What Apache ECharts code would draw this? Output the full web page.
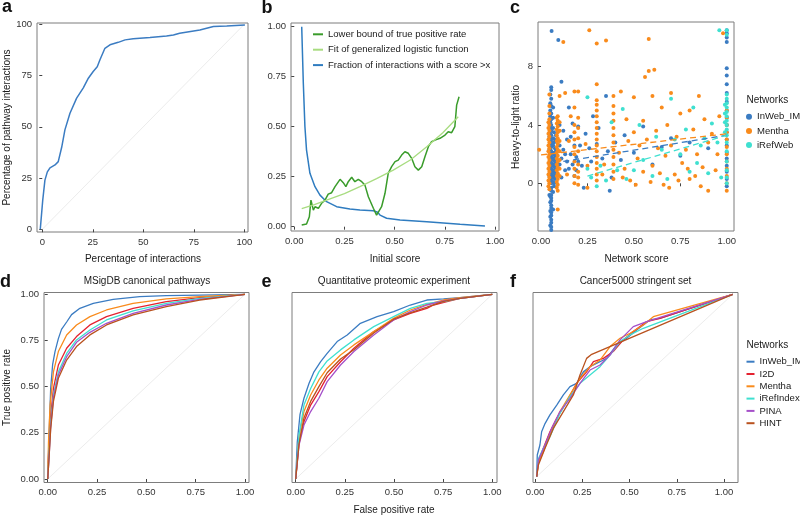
<!DOCTYPE html>
<html><head><meta charset="utf-8">
<script src="https://cdn.jsdelivr.net/npm/echarts@6/dist/echarts.min.js"></script>
<style>html,body{margin:0;padding:0;background:#fff}#c{width:800px;height:515px}</style>
</head><body><div id="c"></div>
<script>
// ---------- DATA ----------
// Panel a
const aCurve = [[-1,0],[0.2,14],[1.3,24],[2.5,28],[3.8,30],[6.3,31.4],[7.9,33],[9.6,40],[11.2,48.5],[13.7,56.6],[17,64],[20.3,69],[22.8,73.7],[25.2,77],[27.2,79.3],[28.5,82.6],[31,88.3],[33.5,90],[37.6,91.2],[41,92.4],[45,92.9],[53.3,93.5],[61.5,94.3],[64.9,94.8],[68,95.6],[78,97.2],[84.7,98.9],[91.3,99.2],[100.3,99.7]];
const aDiag = [[0,0],[100,100]];
const aTicks = [0,25,50,75,100];

// Panel b
const bNames = ['Lower bound of true positive rate','Fit of generalized logistic function','Fraction of interactions with a score >x'];
const bFraction = [[0.037,1.0],[0.045,0.717],[0.053,0.5],[0.061,0.383],[0.078,0.267],[0.103,0.2],[0.128,0.158],[0.161,0.125],[0.211,0.1],[0.277,0.088],[0.327,0.083],[0.394,0.08],[0.415,0.072],[0.427,0.058],[0.46,0.042],[0.527,0.033],[0.66,0.025],[0.826,0.012],[0.95,0.003]];
const bLower = [[0.037,0.008],[0.061,0.013],[0.075,0.05],[0.083,0.133],[0.088,0.142],[0.095,0.083],[0.103,0.1],[0.12,0.092],[0.136,0.117],[0.153,0.133],[0.169,0.163],[0.186,0.17],[0.203,0.2],[0.228,0.237],[0.244,0.22],[0.257,0.2],[0.269,0.225],[0.286,0.247],[0.302,0.225],[0.319,0.237],[0.336,0.225],[0.344,0.233],[0.352,0.208],[0.369,0.15],[0.394,0.092],[0.41,0.058],[0.419,0.053],[0.435,0.1],[0.452,0.167],[0.468,0.267],[0.485,0.3],[0.502,0.325],[0.518,0.333],[0.535,0.358],[0.551,0.375],[0.568,0.367],[0.585,0.342],[0.601,0.3],[0.618,0.283],[0.635,0.3],[0.651,0.35],[0.668,0.4],[0.684,0.425],[0.701,0.433],[0.726,0.442],[0.751,0.458],[0.767,0.475],[0.784,0.47],[0.8,0.5],[0.809,0.608],[0.821,0.65]];
const bFit = [[0.037,0.09],[0.1,0.11],[0.161,0.133],[0.25,0.165],[0.327,0.2],[0.41,0.24],[0.493,0.283],[0.58,0.335],[0.66,0.4],[0.74,0.47],[0.817,0.55]];
const bTicks = [0,0.25,0.5,0.75,1];

// Panel c (scatter columns + scattered points)
const cNames = ['InWeb_IM','Mentha','iRefWeb'];
const cInWebColX = [0.045,0.05,0.055,0.065,0.07,0.075,0.08,1.0];
const cInWebColY = [
  [-0.8,0.5,1.4,2.3,3.2,4.2],
  [-2.9,-2.3,-1.9,-1.3,-0.9,-0.4,0.1,0.3,0.5,0.7,0.9,1.1,1.3,1.5,1.7,1.9,2.1,2.3,2.7,3.1,3.4,3.8,4.2,4.6,5.0,5.5,6.1],
  [-3.2,-3.0,-2.7,-2.5,-2.2,-2.0,-1.7,-1.5,-1.2,-1.0,-0.8,-0.5,-0.3,0,0.2,0.4,0.6,0.8,1.0,1.2,1.4,1.6,1.8,2.0,2.2,2.5,2.8,3.0,3.3,3.6,4.0,4.4,4.8,5.3,5.8,6.4,6.6],
  [-1.8,-0.6,0.1,0.5,0.9,1.3,1.7,2.1,2.6,3.1,3.8,4.5,5.2],
  [-0.2,0.0,0.4,0.8,1.2,1.6,2.0,2.8,3.5],
  [0.3,0.7,1.1,1.5,1.9,2.4,3.0],
  [0.6,1.0,1.4,1.8,2.2,3.3],
  [-0.2,0.3,0.8,1.2,1.7,2.1,2.6,3.0,3.5,4.0,4.5,5.0,5.6,6.2,6.8,7.4,7.9,9.7,10.0,10.3,10.5]
];
const cInWebPts = [[0.057,10.45],[0.093,9.83],[0.11,6.97],[0.1,4.0],[0.12,3.6],[0.13,2.0],[0.14,1.5],[0.15,5.2],[0.16,3.2],[0.17,4.1],[0.18,0.5],[0.19,1.8],[0.2,3.9],[0.21,2.6],[0.22,1.2],[0.23,-0.3],[0.24,3.4],[0.26,2.4],[0.27,1.5],[0.28,4.6],[0.3,2.7],[0.31,3.8],[0.33,1.7],[0.35,6.0],[0.36,2.2],[0.38,0.4],[0.4,2.8],[0.43,1.6],[0.37,-0.5],[0.45,3.3],[0.5,2.1],[0.55,3.9],[0.6,1.3],[0.65,2.5],[0.7,3.1],[0.75,1.9],[0.8,2.8],[0.9,2.4],[0.1,1.3],[0.11,1.7],[0.12,2.3],[0.13,0.9],[0.14,3.0],[0.1,2.6],[0.11,0.4],[0.15,1.0],[0.16,2.0],[0.17,1.3],[0.18,2.6],[0.19,0.9],[0.2,1.5]];
const cMenthaColX = [0.04,0.045,0.085,0.09,0.1,0.18,0.2,0.3,0.39,1.0];
const cMenthaColY = [
  [-0.2,0.2,0.6,1.0,1.4,1.8,2.2,2.6,3.0,3.4,3.8,4.2],
  [-0.4,0,0.4,0.8,1.2,1.6,2.0,2.4,2.8,3.2,3.6,4.0,4.4,4.8,5.3,6.1],
  [-0.3,0.1,0.5,0.9,1.3,1.7,2.1,2.5,2.9,3.3,3.7,4.1,4.5],
  [-1.8,-0.5,-0.1,0.3,0.7,1.1,1.5,1.9,2.3,2.7,3.1,3.5,3.9,4.3,4.6],
  [0.5,1.0,1.6,2.2,2.9,3.6,4.2,6.0],
  [0.0,0.5,1.0,1.5,2.0,2.5,3.0,3.5,4.0,5.2,6.3],
  [-0.1,0.4,0.8,1.3,2.2,3.1,3.8,4.5,6.3],
  [0.2,0.6,1.0,1.4,1.8,2.2,2.6,3.0,3.4,3.8,4.2,4.6,5.0,5.4,5.7,6.8,9.6],
  [0.3,0.8,1.3,1.8,2.3,2.8,3.3,3.8,4.3,4.8,5.3,6.0],
  [-0.5,0,0.5,1.0,1.5,2.0,2.5,3.0,3.5,4.0,4.5,5.0]
];
const cMenthaPts = [[-0.01,2.3],[0.12,9.7],[0.13,6.2],[0.14,0.6],[0.15,2.9],[0.16,4.6],[0.25,-0.3],[0.26,10.5],[0.25,1.2],[0.24,2.7],[0.35,9.8],[0.33,0.6],[0.34,1.3],[0.42,2.1],[0.43,6.3],[0.45,1.0],[0.46,4.4],[0.47,2.9],[0.48,0.2],[0.5,3.5],[0.5,5.9],[0.52,1.7],[0.53,2.6],[0.55,4.3],[0.55,0.8],[0.56,7.3],[0.57,3.0],[0.58,9.9],[0.58,7.7],[0.6,6.0],[0.61,7.8],[0.6,1.2],[0.62,3.6],[0.63,2.4],[0.65,5.2],[0.66,-0.1],[0.67,1.9],[0.68,4.0],[0.7,6.2],[0.7,2.6],[0.72,0.6],[0.73,3.2],[0.75,4.8],[0.76,1.4],[0.78,2.3],[0.8,5.0],[0.8,0.3],[0.82,3.7],[0.84,2.0],[0.85,6.0],[0.87,1.1],[0.88,4.4],[0.9,-0.5],[0.9,2.8],[0.92,3.4],[0.94,0.9],[0.95,2.0],[0.96,4.6],[0.98,10.3],[0.44,0.4],[0.51,-0.1],[0.59,0.1],[0.64,0.7],[0.69,-0.3],[0.74,0.2],[0.79,1.0],[0.83,0.5],[0.86,-0.2]];
const cIRefColX = [0.99,1.0];
const cIRefColY = [
  [3.5,4.2,4.8,5.4],
  [0.0,0.4,0.9,1.5,2.2,2.8,3.3,3.7,4.0,4.3,4.6,4.9,5.2,5.5,5.8,6.1,10.2,10.5]
];
const cIRefPts = [[0.25,5.9],[0.25,1.0],[0.27,0.4],[0.3,-0.2],[0.32,1.2],[0.35,0.2],[0.38,4.2],[0.41,0.9],[0.44,5.1],[0.46,0.3],[0.5,0.9],[0.53,4.0],[0.55,1.6],[0.6,0.5],[0.62,3.2],[0.65,2.3],[0.68,0.3],[0.7,5.8],[0.72,3.0],[0.75,2.0],[0.78,3.7],[0.8,0.8],[0.82,5.2],[0.84,1.4],[0.86,2.6],[0.88,3.1],[0.9,0.7],[0.92,4.1],[0.95,2.8],[0.96,10.5],[0.97,0.4]];
const cFitInWeb = [[0.12,1.5],[1.0,3.3]];
const cFitMentha = [[0.0,1.95],[1.0,3.4]];
const cFitIRef = [[0.25,0.5],[1.0,3.3]];
const cXTicks = [0,0.25,0.5,0.75,1];
const cYTicks = [0,4,8];

// Panels d, e, f (ROC curves)
const rocNames = ['InWeb_IM','I2D','Mentha','iRefIndex','PINA','HINT'];
const dInWeb = [[0,0],[0.008,0.27],[0.015,0.49],[0.025,0.62],[0.037,0.69],[0.054,0.76],[0.07,0.81],[0.096,0.85],[0.121,0.89],[0.163,0.924],[0.231,0.951],[0.332,0.973],[0.466,0.987],[0.601,0.993],[0.77,0.996],[1,1]];
const dI2D = [[0,0],[0.005,0.15],[0.012,0.31],[0.029,0.49],[0.054,0.617],[0.096,0.708],[0.146,0.771],[0.214,0.834],[0.298,0.879],[0.433,0.924],[0.601,0.96],[0.77,0.982],[1,1]];
const dMentha = [[0,0],[0.004,0.2],[0.012,0.40],[0.029,0.58],[0.054,0.69],[0.096,0.78],[0.146,0.834],[0.214,0.879],[0.298,0.915],[0.433,0.951],[0.601,0.975],[0.77,0.987],[1,1]];
const dIRef = [[0,0],[0.006,0.12],[0.015,0.3],[0.029,0.455],[0.054,0.58],[0.096,0.68],[0.146,0.753],[0.214,0.807],[0.298,0.861],[0.433,0.91],[0.601,0.951],[0.77,0.978],[1,1]];
const dPINA = [[0,0],[0.006,0.1],[0.015,0.28],[0.029,0.44],[0.054,0.563],[0.096,0.662],[0.146,0.74],[0.214,0.794],[0.298,0.843],[0.433,0.897],[0.601,0.942],[0.77,0.973],[1,1]];
const dHINT = [[0,0],[0.006,0.1],[0.015,0.27],[0.029,0.42],[0.054,0.545],[0.096,0.644],[0.146,0.717],[0.214,0.78],[0.298,0.834],[0.433,0.888],[0.601,0.933],[0.77,0.969],[1,1]];

const eInWeb = [[0,0],[0.008,0.2],[0.022,0.35],[0.042,0.437],[0.068,0.518],[0.093,0.58],[0.127,0.635],[0.16,0.68],[0.211,0.744],[0.262,0.78],[0.329,0.843],[0.414,0.879],[0.498,0.906],[0.583,0.942],[0.667,0.969],[0.752,0.975],[0.836,0.982],[1,1]];
const eI2D = [[0,0],[0.017,0.2],[0.042,0.31],[0.076,0.40],[0.118,0.473],[0.16,0.554],[0.228,0.635],[0.296,0.708],[0.397,0.798],[0.498,0.861],[0.583,0.897],[0.667,0.924],[0.701,0.942],[0.769,0.96],[0.836,0.978],[1,1]];
const eMentha = [[0,0],[0.017,0.23],[0.042,0.365],[0.076,0.455],[0.118,0.536],[0.16,0.6],[0.228,0.671],[0.296,0.726],[0.397,0.798],[0.498,0.87],[0.583,0.915],[0.667,0.946],[0.752,0.969],[0.836,0.982],[1,1]];
const eIRef = [[0,0],[0.017,0.238],[0.042,0.40],[0.076,0.49],[0.118,0.58],[0.16,0.639],[0.228,0.699],[0.296,0.753],[0.397,0.825],[0.498,0.879],[0.583,0.924],[0.667,0.951],[0.752,0.96],[0.836,0.978],[1,1]];
const ePINA = [[0,0],[0.017,0.184],[0.042,0.292],[0.076,0.365],[0.118,0.437],[0.16,0.527],[0.228,0.617],[0.296,0.69],[0.397,0.78],[0.498,0.861],[0.583,0.906],[0.667,0.942],[0.752,0.964],[0.836,0.978],[1,1]];
const eHINT = [[0,0],[0.017,0.19],[0.042,0.33],[0.076,0.42],[0.118,0.5],[0.16,0.575],[0.228,0.65],[0.296,0.7],[0.397,0.79],[0.498,0.865],[0.583,0.9],[0.667,0.93],[0.752,0.962],[0.836,0.978],[1,1]];

const fInWeb = [[0.009,0.013],[0.012,0.13],[0.026,0.184],[0.035,0.256],[0.053,0.30],[0.079,0.347],[0.115,0.40],[0.15,0.455],[0.185,0.5],[0.22,0.518],[0.256,0.58],[0.291,0.608],[0.344,0.635],[0.379,0.653],[0.432,0.726],[0.485,0.762],[0.538,0.807],[0.608,0.861],[0.661,0.87],[1.046,1]];
const fI2D = [[0.009,0.013],[0.018,0.094],[0.044,0.166],[0.079,0.256],[0.115,0.329],[0.168,0.419],[0.22,0.518],[0.273,0.58],[0.309,0.635],[0.362,0.653],[0.414,0.69],[0.467,0.753],[0.52,0.798],[0.591,0.852],[0.661,0.87],[1.046,1]];
const fMentha = [[0.009,0.013],[0.018,0.085],[0.044,0.148],[0.079,0.238],[0.132,0.365],[0.185,0.455],[0.238,0.545],[0.291,0.608],[0.344,0.644],[0.397,0.717],[0.45,0.762],[0.503,0.789],[0.573,0.834],[0.626,0.879],[1.046,1]];
const fIRef = [[0.009,0.013],[0.018,0.11],[0.044,0.166],[0.079,0.229],[0.132,0.356],[0.185,0.446],[0.238,0.518],[0.291,0.563],[0.344,0.608],[0.397,0.671],[0.45,0.744],[0.503,0.78],[0.573,0.816],[1.046,1]];
const fPINA = [[0.009,0.013],[0.018,0.103],[0.053,0.184],[0.088,0.274],[0.132,0.365],[0.185,0.437],[0.238,0.518],[0.291,0.59],[0.344,0.617],[0.397,0.671],[0.45,0.753],[0.52,0.825],[0.591,0.852],[1.046,1]];
const fHINT = [[0.009,0.013],[0.018,0.076],[0.053,0.166],[0.097,0.274],[0.15,0.365],[0.203,0.455],[0.238,0.563],[0.273,0.653],[0.3,0.675],[1.046,1]];
const rocDiag = [[0,0],[1,1]];
const fDiag = [[0.009,0.013],[1.046,1]];
const rocTicks = [0,0.25,0.5,0.75,1];

// ---------- STYLE ----------
const FONT = "'Liberation Sans', Arial, sans-serif";
const C = {InWeb_IM:'#3b7cc2', I2D:'#e42230', Mentha:'#f98b1c', iRefIndex:'#3fe0d0', PINA:'#a550c9', HINT:'#b9521f', iRefWeb:'#3fe0d0'};
const DIAG = '#ececec';

function colPts(xs, ys){ const out=[]; xs.forEach((x,i)=>ys[i].forEach(y=>out.push([x,y]))); return out; }
const cInWeb = colPts(cInWebColX,cInWebColY).concat(cInWebPts);
const cMentha = colPts(cMenthaColX,cMenthaColY).concat(cMenthaPts);
const cIRef = colPts(cIRefColX,cIRefColY).concat(cIRefPts);

const f2 = v => v.toFixed(2);
const f0 = v => String(Math.round(v));
function ax(gi, min, max, ticks, fmt, show){
  return {gridIndex:gi, type:'value', min, max, splitLine:{show:false}, axisLine:{show:false},
    axisTick:{show:show, customValues:ticks, length:3, lineStyle:{color:'#444', width:1}},
    axisLabel:{show:show, customValues:ticks, formatter:fmt, margin:5, fontSize:9.5, color:'#333', fontFamily:FONT}};
}
const grids = [
  {left:37, top:23, width:211, height:209},
  {left:291, top:23, width:208, height:208},
  {left:538, top:22, width:196, height:209},
  {left:44, top:292.5, width:205, height:190},
  {left:292, top:292.5, width:205, height:190},
  {left:533, top:292.5, width:205, height:190}
].map(g=>Object.assign(g,{show:true, borderColor:'#7d7d7d', borderWidth:1, backgroundColor:'#fff'}));

const xAxes = [
  ax(0,-2.62,101.83,aTicks,f0,true),
  ax(1,-0.0164,1.02,bTicks,f2,true),
  ax(2,-0.0162,1.039,cXTicks,f2,true),
  ax(3,-0.0188,1.0203,rocTicks,f2,true),
  ax(4,-0.0188,1.0239,rocTicks,f2,true),
  ax(5,-0.0106,1.074,rocTicks,f2,true)
];
const yAxes = [
  ax(0,-1.32,100.63,aTicks,f0,true),
  ax(1,-0.0215,1.0185,bTicks,f2,true),
  ax(2,-3.27,11.07,cYTicks,f0,true),
  ax(3,-0.019,1.0097,rocTicks,f2,true),
  ax(4,-0.019,1.0097,rocTicks,f2,false),
  ax(5,-0.019,1.0097,rocTicks,f2,false)
];

function line(name, gi, data, color, width, extra){
  return Object.assign({type:'line', name, xAxisIndex:gi, yAxisIndex:gi, data, showSymbol:false, symbol:'none',
    lineStyle:{color, width}, itemStyle:{color}, animation:false, silent:true, z:3}, extra||{});
}
function scat(name, data, color){
  return {type:'scatter', name, xAxisIndex:2, yAxisIndex:2, data, symbolSize:4, itemStyle:{color, opacity:1}, animation:false, silent:true, z:3};
}

const series = [
  scat('InWeb_IM', cInWeb, C.InWeb_IM),
  scat('Mentha', cMentha, C.Mentha),
  scat('iRefWeb', cIRef, C.iRefWeb),
  line('fitInWeb',2,cFitInWeb,C.InWeb_IM,1.3,{lineStyle:{color:C.InWeb_IM,width:1.3,type:[6,4]},z:4}),
  line('fitMentha',2,cFitMentha,C.Mentha,1.3,{lineStyle:{color:C.Mentha,width:1.3,type:[6,4]},z:4}),
  line('fitIRef',2,cFitIRef,C.iRefWeb,1.3,{lineStyle:{color:C.iRefWeb,width:1.3,type:[6,4]},z:4}),
  line('diagA',0,aDiag,DIAG,1,{z:2}),
  line('curveA',0,aCurve,'#3b7cc2',1.5),
  line(bNames[2],1,bFraction,'#2f7cc0',1.5),
  line(bNames[0],1,bLower,'#3a9c2b',1.5),
  line(bNames[1],1,bFit,'#a8dc80',1.3),
  line('diagD',3,rocDiag,DIAG,1,{z:2}),
  line('diagE',4,rocDiag,DIAG,1,{z:2}),
  line('diagF',5,fDiag,DIAG,1,{z:2})
];
const rocData = [[dInWeb,dI2D,dMentha,dIRef,dPINA,dHINT],[eInWeb,eI2D,eMentha,eIRef,ePINA,eHINT],[fInWeb,fI2D,fMentha,fIRef,fPINA,fHINT]];
rocData.forEach((set,k)=>set.forEach((d,i)=>series.push(line(rocNames[i],3+k,d,C[rocNames[i]],1.3))));

const txt = (text,x,y,size,extra) => ({type:'text', x, y, silent:true, z:10,
  style:Object.assign({text, fill:'#1a1a1a', font:`${size}px ${FONT}`, align:'center', verticalAlign:'middle'}, extra||{})});
const letter = (t,x,y) => ({type:'text', x, y, silent:true, z:10,
  style:{text:t, fill:'#111', font:`bold 18px ${FONT}`, align:'left', verticalAlign:'middle'}});

const graphic = [
  letter('a',2,7.5), letter('b',261.5,8), letter('c',510,8),
  letter('d',0,282.3), letter('e',261.5,282.3), letter('f',510,282.3),
  txt('Percentage of interactions',143,259.3,10),
  txt('Initial score',395,259.3,10),
  txt('Network score',636.5,259.3,10),
  txt('False positive rate',394,510,10),
  Object.assign(txt('Percentage of pathway interactions',7,127.5,10),{rotation:Math.PI/2}),
  Object.assign(txt('True positive rate',7,387.5,10),{rotation:Math.PI/2}),
  Object.assign(txt('Heavy-to-light ratio',516.5,127,10),{rotation:Math.PI/2}),
  txt('MSigDB canonical pathways',147,281.7,10),
  txt('Quantitative proteomic experiment',394,281.7,10),
  txt('Cancer5000 stringent set',635.5,281.7,10),
  txt('Networks',746.5,100,10,{align:'left'}),
  txt('Networks',746.5,345.7,10,{align:'left'})
];

const legends = [
  {data:bNames, left:313, top:28.3, orient:'vertical', icon:'rect', itemWidth:10, itemHeight:2, itemGap:3.4, padding:0,
   textStyle:{fontSize:9.5, lineHeight:12, color:'#1a1a1a', fontFamily:FONT}, selectedMode:false},
  {data:cNames, left:746, top:110.7, orient:'vertical', icon:'circle', itemWidth:6, itemHeight:6, itemGap:2.2, padding:0,
   textStyle:{fontSize:9.5, lineHeight:12, color:'#1a1a1a', fontFamily:FONT}, selectedMode:false},
  {data:rocNames, left:746.5, top:355.7, orient:'vertical', icon:'rect', itemWidth:8, itemHeight:2, itemGap:0.3, padding:0,
   textStyle:{fontSize:9.5, lineHeight:12, color:'#1a1a1a', fontFamily:FONT}, selectedMode:false}
];

const chart = echarts.init(document.getElementById('c'), null, {renderer:'canvas'});
chart.setOption({animation:false, backgroundColor:'#fff', grid:grids, xAxis:xAxes, yAxis:yAxes, series, graphic, legend:legends, textStyle:{fontFamily:FONT}});
</script></body></html>
